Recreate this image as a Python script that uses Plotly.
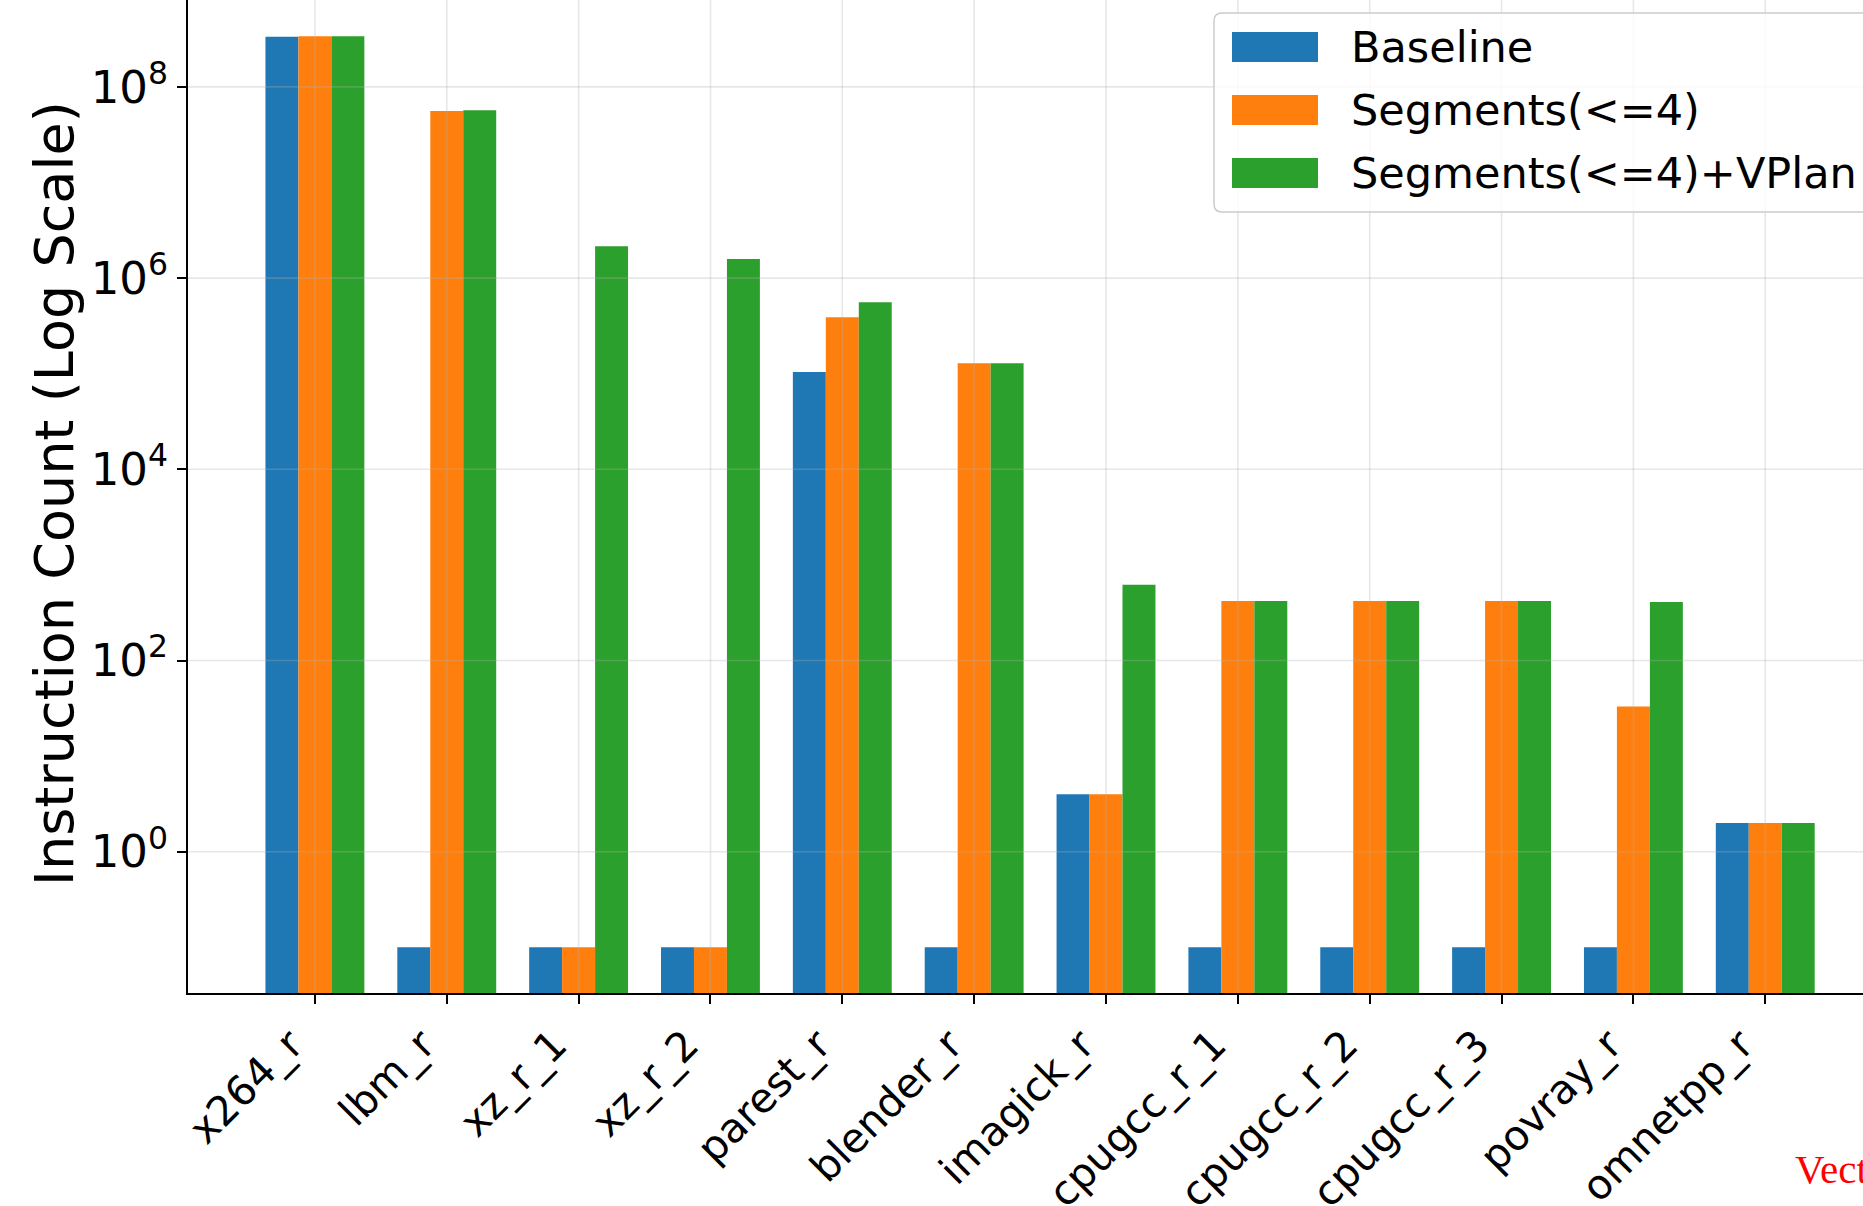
import numpy as np
import plotly.graph_objects as go

# ---------------- data ----------------
categories = ["x264_r", "lbm_r", "xz_r_1", "xz_r_2", "parest_r", "blender_r",
              "imagick_r", "cpugcc_r_1", "cpugcc_r_2", "cpugcc_r_3", "povray_r", "omnetpp_r"]
series_names = ["Baseline", "Segments(<=4)", "Segments(<=4)+VPlan"]
baseline = [3.34e8, 0.1, 0.1, 0.1, 1.04e5, 0.1, 4.0, 0.1, 0.1, 0.1, 0.1, 2.0]
segments4 = [3.39e8, 5.6e7, 0.1, 0.1, 3.9e5, 1.29e5, 4.0, 420, 420, 420, 33, 2.0]
segments4_vplan = [3.39e8, 5.7e7, 2.16e6, 1.58e6, 5.6e5, 1.29e5, 620, 420, 420, 420, 410, 2.0]
y_tickvals = [1e0, 1e2, 1e4, 1e6, 1e8]
y_ticktext = ["10<sup>0</sup>", "10<sup>2</sup>", "10<sup>4</sup>", "10<sup>6</sup>", "10<sup>8</sup>"]
y_title = "Instruction Count (Log Scale)"
side_note = "Vect"

# ---------------- style ----------------
colors = ["#1f77b4", "#ff7f0e", "#2ca02c"]
W, H = 1863, 1206
ML, MR, MT, MB = 188, 0, 0, 213
PW, PH = W - ML - MR, H - MT - MB
FONT = "DejaVu Sans"
y_lo, y_hi = -1.478, 8.909
x_lo = -0.9625
x_hi = x_lo + PW / 131.85
grid_col = "rgba(176,176,176,0.3)"

fig = go.Figure()
for name, vals, col in zip(series_names, [baseline, segments4, segments4_vplan], colors):
    fig.add_trace(go.Bar(x=categories, y=vals, name=name, marker=dict(color=col, line=dict(width=0)),
                         showlegend=False))

shapes = []
# vertical grid lines (above bars, semi transparent like matplotlib)
for i in range(len(categories)):
    shapes.append(dict(type="line", xref="x", yref="paper", x0=i, x1=i, y0=0, y1=1,
                       line=dict(color=grid_col, width=1.6), layer="above"))
for v in y_tickvals:
    yp = (np.log10(v) - y_lo) / (y_hi - y_lo)
    shapes.append(dict(type="line", xref="paper", yref="paper", x0=0, x1=1, y0=yp, y1=yp,
                       line=dict(color=grid_col, width=1.6), layer="above"))

# legend box (manual, matplotlib-like), cut by the right edge
def px_x(p):
    return (p - ML) / PW
def px_y(p):
    return 1 - (p - MT) / PH

bx0, by0, by1 = px_x(1214), px_y(13), px_y(212)
bx1 = px_x(1880)
rx, ry = 8 / PW, 8 / PH
path = (f"M{bx0+rx},{by0} L{bx1},{by0} L{bx1},{by1} L{bx0+rx},{by1} "
        f"Q{bx0},{by1} {bx0},{by1+ry} L{bx0},{by0-ry} Q{bx0},{by0} {bx0+rx},{by0} Z")
shapes.append(dict(type="path", xref="paper", yref="paper", path=path,
                   fillcolor="rgba(255,255,255,0.8)", line=dict(color="#cccccc", width=1.5),
                   layer="above"))
annotations = []
row_centers = [47, 110, 173]
for name, col, rc in zip(series_names, colors, row_centers):
    shapes.append(dict(type="rect", xref="paper", yref="paper",
                       x0=px_x(1232), x1=px_x(1318), y0=px_y(rc - 15), y1=px_y(rc + 15),
                       fillcolor=col, line=dict(width=0), layer="above"))
    annotations.append(dict(text=name, xref="paper", yref="paper", x=px_x(1349), y=px_y(rc),
                            xanchor="left", yanchor="middle", showarrow=False,
                            font=dict(family=FONT, size=43, color="black")))

# y-axis title
annotations.append(dict(text=y_title, xref="paper", yref="paper", x=px_x(55), y=px_y(494),
                        xanchor="center", yanchor="middle", textangle=-90, showarrow=False,
                        font=dict(family=FONT, size=54, color="black")))
# red side note (cropped page text)
annotations.append(dict(text=side_note, xref="paper", yref="paper", x=px_x(1793), y=px_y(1169),
                        xanchor="left", yanchor="middle", showarrow=False,
                        font=dict(family="Liberation Serif", size=41, color="#ff0000")))

fig.update_layout(
    width=W, height=H,
    margin=dict(l=ML, r=MR, t=MT, b=MB, pad=0),
    paper_bgcolor="white", plot_bgcolor="white",
    barmode="group", bargap=0.25, bargroupgap=0,
    font=dict(family=FONT, color="black"),
    shapes=shapes, annotations=annotations,
    showlegend=False,
)
fig.update_xaxes(
    type="category", range=[x_lo, x_hi], showgrid=False, zeroline=False,
    showline=True, linecolor="black", linewidth=2, mirror=False,
    ticks="outside", ticklen=9, tickwidth=1.6, tickcolor="black",
    tickangle=-45, tickfont=dict(family=FONT, size=41, color="black"),
    ticklabelshift=-24,
    layer="above traces", automargin=False,
)
fig.update_yaxes(
    type="log", range=[y_lo, y_hi], showgrid=False, zeroline=False,
    showline=True, linecolor="black", linewidth=2, mirror=False,
    ticks="outside", ticklen=9, tickwidth=1.6, tickcolor="black",
    tickmode="array", tickvals=y_tickvals, ticktext=y_ticktext,
    tickfont=dict(family=FONT, size=45, color="black"),
    layer="above traces", automargin=False,
)

fig.write_html("out.html",
               config={"displayModeBar": False},
               post_script="document.body.style.margin='0px';document.body.style.overflow='hidden';")
